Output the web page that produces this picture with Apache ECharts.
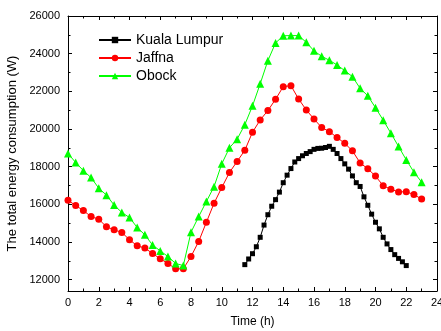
<!DOCTYPE html>
<html>
<head>
<meta charset="utf-8">
<script src="https://cdn.jsdelivr.net/npm/echarts@6/dist/echarts.min.js"></script>
<style>html,body{margin:0;padding:0;background:#fff}#c{width:441px;height:331px}</style>
</head>
<body>
<div id="c"></div>
<script>
var seriesNames = ['Kuala Lumpur', 'Jaffna', 'Obock'];
var klHours = [11.5,11.75,12,12.25,12.5,12.75,13,13.25,13.5,13.75,14,14.25,14.5,14.75,15,15.25,15.5,15.75,16,16.25,16.5,16.75,17,17.25,17.5,17.75,18,18.25,18.5,18.75,19,19.25,19.5,19.75,20,20.25,20.5,20.75,21,21.25,21.5,21.75,22];
var klValues = [12800,13100,13380,13750,14250,14900,15450,15900,16250,16650,17150,17550,17900,18250,18430,18580,18700,18800,18920,18970,18980,19020,19080,18920,18700,18430,18150,17870,17510,17150,16950,16400,15950,15480,15050,14700,14250,13900,13600,13330,13130,12950,12750];
var hours = [0,0.5,1,1.5,2,2.5,3,3.5,4,4.5,5,5.5,6,6.5,7,7.5,8,8.5,9,9.5,10,10.5,11,11.5,12,12.5,13,13.5,14,14.5,15,15.5,16,16.5,17,17.5,18,18.5,19,19.5,20,20.5,21,21.5,22,22.5,23];
var jaffnaValues = [16220,15940,15670,15350,15210,14810,14650,14510,14120,13800,13680,13390,13110,12860,12580,12580,13230,14030,15050,16060,16890,17690,18280,18870,19830,20480,20980,21580,22250,22300,21590,21010,20530,20080,19860,19550,19240,18840,18200,17890,17500,16990,16800,16660,16670,16520,16280];
var obockValues = [18700,18220,17790,17420,16860,16490,15960,15570,15300,14770,14380,13840,13530,13230,12860,12750,14520,15350,16150,16940,18150,19000,19460,20230,21230,22400,23630,24570,24950,24960,24960,24600,24150,23860,23650,23400,23100,22780,22160,21760,21130,20470,19780,19070,18360,17710,17180];
var yMajorTicks = [12000,14000,16000,18000,20000,22000,24000,26000];
var yMinorTicks = [13000,15000,17000,19000,21000,23000,25000];
var xTickLabels = [0,2,4,6,8,10,12,14,16,18,20,22,24];

function pairs(xs, ys){ return xs.map(function(x,i){ return [x, ys[i]]; }); }

var FONT = 'Liberation Sans, Arial, sans-serif';
var lineStyleAxis = {color:'#000', width:1};
function yAx(pos, ticks, len, labels, line){
  return {
    type:'value', position:pos, min:11400, max:26000,
    axisLine:{show:line, onZero:false, lineStyle:lineStyleAxis},
    axisTick:{show:true, inside:true, length:len, customValues:ticks, lineStyle:lineStyleAxis},
    axisLabel:{show:labels, customValues:yMajorTicks, color:'#000', fontSize:11, fontFamily:FONT, margin:8,
      formatter:function(v){ return String(v); }},
    splitLine:{show:false}
  };
}
var chart = echarts.init(document.getElementById('c'), null, {renderer:'canvas'});
chart.setOption({
  animation:false,
  backgroundColor:'#fff',
  grid:{left:68, top:16, right:4, bottom:40, containLabel:false, outerBoundsMode:'none'},
  legend:{
    orient:'vertical', left:93, top:28, itemWidth:32, itemHeight:8, itemGap:4,
    textStyle:{color:'#000', fontSize:14, fontFamily:FONT, lineHeight:14},
    data:seriesNames
  },
  xAxis:[
    {type:'value', min:0, max:24, interval:2, position:'bottom',
     name:'Time (h)', nameLocation:'middle', nameGap:25,
     nameTextStyle:{color:'#000', fontSize:12, fontFamily:FONT},
     axisLine:{show:true, onZero:false, lineStyle:lineStyleAxis},
     axisTick:{show:true, inside:true, length:4, lineStyle:lineStyleAxis},
     minorTick:{show:true, splitNumber:2, length:2.5, lineStyle:lineStyleAxis},
     axisLabel:{color:'#000', fontSize:11, fontFamily:FONT, margin:6, customValues:xTickLabels},
     splitLine:{show:false}},
    {type:'value', min:0, max:24, interval:2, position:'top',
     axisLine:{show:true, onZero:false, lineStyle:lineStyleAxis},
     axisTick:{show:true, inside:true, length:4, lineStyle:lineStyleAxis},
     minorTick:{show:true, splitNumber:2, length:2.5, lineStyle:lineStyleAxis},
     axisLabel:{show:false}, splitLine:{show:false}}
  ],
  yAxis:[
    Object.assign(yAx('left', yMajorTicks, 4, true, true), {
      name:'The total energy consumption (W)', nameLocation:'middle', nameGap:44,
      nameTextStyle:{color:'#000', fontSize:13, fontFamily:FONT}
    }),
    yAx('left', yMinorTicks, 2.5, false, false),
    yAx('right', yMajorTicks, 4, false, true),
    yAx('right', yMinorTicks, 2.5, false, false)
  ],
  series:[
    {name:seriesNames[0], type:'line', data:pairs(klHours, klValues), symbol:'rect', symbolSize:5,
     itemStyle:{color:'#000'}, lineStyle:{color:'#000', width:1}},
    {name:seriesNames[1], type:'line', data:pairs(hours, jaffnaValues), symbol:'circle', symbolSize:7,
     itemStyle:{color:'#ff0000'}, lineStyle:{color:'#ff0000', width:1}},
    {name:seriesNames[2], type:'line', data:pairs(hours, obockValues), symbol:'triangle', symbolSize:8,
     itemStyle:{color:'#00ff00'}, lineStyle:{color:'#00ff00', width:1}}
  ]
});
</script>
</body>
</html>
